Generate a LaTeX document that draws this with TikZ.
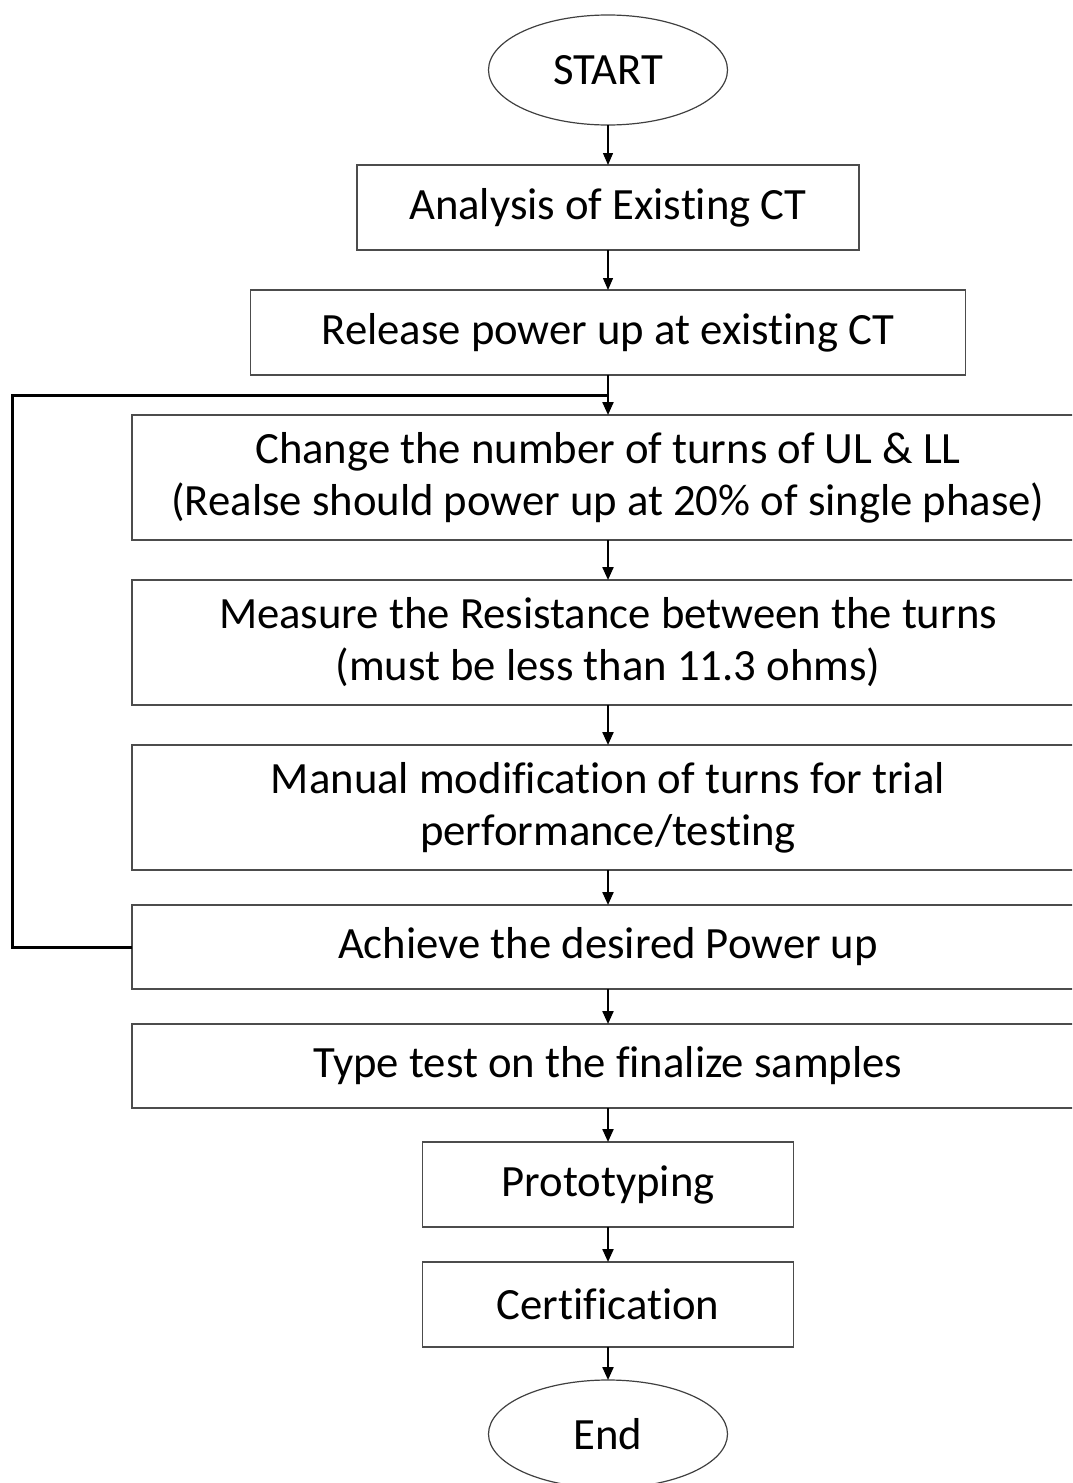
\documentclass[tikz,border=0pt]{standalone}
\usepackage{fontspec}
\setmainfont[Ligatures=NoCommon]{Carlito}
\usetikzlibrary{shapes.geometric,arrows.meta,positioning,calc}

\begin{document}
\begin{tikzpicture}[
        x=1pt, y=-1pt,
        node distance=40pt,
        every node/.style={font=\fontsize{44.7}{52}\selectfont, outer sep=0pt},
        terminal/.style={ellipse, draw=black!75, line width=1.2pt, minimum width=239pt, minimum height=110pt, inner sep=0pt},
        block/.style={rectangle, draw=black!70, line width=1.5pt, align=center, minimum height=85pt, inner sep=0pt},
        wideblock/.style={block, minimum width=952pt, minimum height=125pt},
        thinarrow/.style={-{Triangle[width=10pt,length=12pt]}, line width=1.3pt},
        arrow/.style={-{Triangle[width=11pt,length=13pt]}, line width=2.2pt},
        loopline/.style={line width=3pt, line join=miter}
      ]
        \path[use as bounding box, clip] (0,0) rectangle (1072,1483);

        % Start and analysis of existing CT
        \node[terminal] (start) at (608,70) {START};
        \node[block, minimum width=502pt, below=40pt of start] (analysis) {Analysis of Existing CT};
        \node[block, minimum width=715pt, below=40pt of analysis] (release) {Release power up at existing CT};

        % Modification loop
        \node[wideblock, below=40pt of release] (change) {Change the number of turns of UL \& LL\\(Realse should power up at 20\% of single phase)};
        \node[wideblock, below=40pt of change] (measure) {Measure the Resistance between the turns\\(must be less than 11.3 ohms)};
        \node[wideblock, below=40pt of measure] (manual) {Manual modification of turns for trial\\performance/testing};
        \node[wideblock, minimum height=84pt, below=35pt of manual] (achieve) {Achieve the desired Power up};

        % Final steps
        \node[wideblock, minimum height=84pt, below=35pt of achieve] (typetest) {Type test on the finalize samples};
        \node[block, minimum width=371pt, below=34pt of typetest] (proto) {Prototyping};
        \node[block, minimum width=371pt, below=35pt of proto] (cert) {Certification};
        \node[terminal, minimum height=108pt, below=33pt of cert] (end) {End};

        % Arrows
        \draw[thinarrow] (start) -- (analysis);
        \draw[thinarrow] (analysis) -- (release);
        \draw[arrow] (release) -- (change);
        \draw[arrow] (change) -- (measure);
        \draw[arrow] (measure) -- (manual);
        \draw[arrow] (manual) -- (achieve);
        \draw[arrow] (achieve) -- (typetest);
        \draw[arrow] (typetest) -- (proto);
        \draw[arrow] (proto) -- (cert);
        \draw[arrow] (cert) -- (end);

        % Feedback
        \coordinate (join) at ($(release.south)!0.5!(change.north)$);
        \draw[loopline] (achieve.west) -- ++(-120,0) |- (join);
      \end{tikzpicture}
\end{document}
